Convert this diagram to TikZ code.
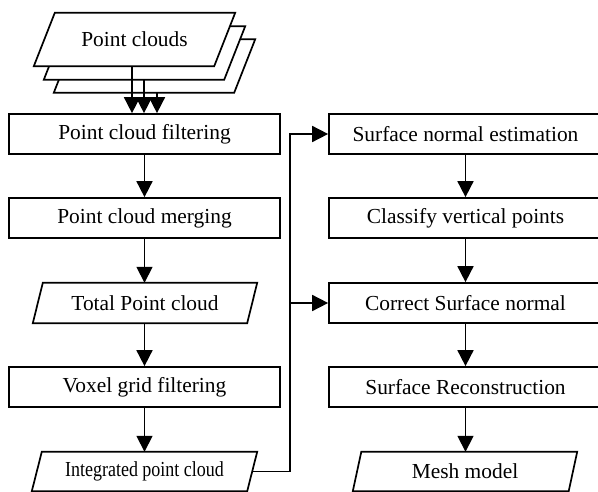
\documentclass[tikz,border=0pt]{standalone}
\usepackage{fontspec}
\usepackage{graphicx}
\setmainfont{Liberation Serif}
\usetikzlibrary{arrows.meta,backgrounds}

% outline of a slanted data box drawn behind node #1, with horizontal skew #2
\newcommand\paraoutline[2]{%
  \path[outline] ([xshift=#2]#1.north west) -- (#1.north east)
    -- ([xshift=-#2]#1.south east) -- (#1.south west) -- cycle;}

\begin{document}
\begin{tikzpicture}[x=1pt,y=-1pt,
  every node/.style={font=\fontsize{21.4}{25}\selectfont, inner sep=0pt},
  procbox/.style={draw, line width=1.7pt, minimum width=271pt, minimum height=40pt},
  rprocbox/.style={procbox, minimum width=273pt},
  databox/.style={minimum width=224pt, minimum height=40pt},
  cloudbox/.style={minimum width=201pt, minimum height=53pt},
  outline/.style={draw, line width=1.7pt, fill=white, line join=miter},
  flow/.style={line width=1.7pt, -{Triangle[length=16pt,width=16pt]}},
]
\useasboundingbox (0,0) rectangle (598,492);
\clip (0,0) rectangle (598,492);

% stacked input clouds
\node[cloudbox] (pc3) at (154.5,66) {};
\node[cloudbox] (pc2) at (144.5,53) {};
\node[cloudbox] (pc1) at (134.5,39.5) {Point clouds};

% left column
\node[procbox] (pcf) at (144.5,134) {Point cloud filtering};
\node[procbox] (pcm) at (144.5,218) {Point cloud merging};
\node[databox] (tpc) at (145,303) {Total Point cloud};
\node[procbox] (vgf) at (144.5,387) {Voxel grid filtering};
\node[databox, minimum width=225pt, minimum height=39pt] (ipc) at (144.5,471.5)
  {\scalebox{0.84}[1]{Integrated point cloud}};

% right column
\node[rprocbox] (sne) at (465.5,134) {Surface normal estimation};
\node[rprocbox] (cvp) at (465.5,218) {Classify vertical points};
\node[rprocbox] (csn) at (465.5,303) {Correct Surface normal};
\node[rprocbox] (sr)  at (465.5,387) {Surface Reconstruction};
\node[databox, minimum height=39pt] (mm) at (465,471.5) {Mesh model};

% slanted outlines, kept behind the labels
\begin{scope}[on background layer]
  \paraoutline{pc3}{21pt}
  \paraoutline{pc2}{21pt}
  \paraoutline{pc1}{21pt}
  \paraoutline{tpc}{10pt}
  \paraoutline{ipc}{10pt}
  \paraoutline{mm}{8.5pt}
\end{scope}

% connectors
\draw[flow] ([xshift=-2.5pt]pc1.south) -- ([xshift=-2.5pt]pc1.south |- pcf.north);
\draw[flow] ([xshift=-0.5pt]pc2.south) -- ([xshift=-0.5pt]pc2.south |- pcf.north);
\draw[flow] ([xshift=2.5pt]pc3.south) -- ([xshift=2.5pt]pc3.south |- pcf.north);
\draw[flow] (pcf.south) -- (pcm.north);
\draw[flow] (pcm.south) -- (pcm.south |- tpc.north);
\draw[flow] (tpc.south -| vgf.north) -- (vgf.north);
\draw[flow] (vgf.south) -- (ipc.north);

\coordinate (bus) at (290,471.5);
\draw[flow] ([xshift=-5pt]ipc.east) -- (bus) |- (sne.west);
\draw[flow] (bus |- csn.west) -- (csn.west);

\draw[flow] (sne.south) -- (cvp.north);
\draw[flow] (cvp.south) -- (csn.north);
\draw[flow] (csn.south) -- (sr.north);
\draw[flow] (sr.south) -- (sr.south |- mm.north);
\end{tikzpicture}
\end{document}
